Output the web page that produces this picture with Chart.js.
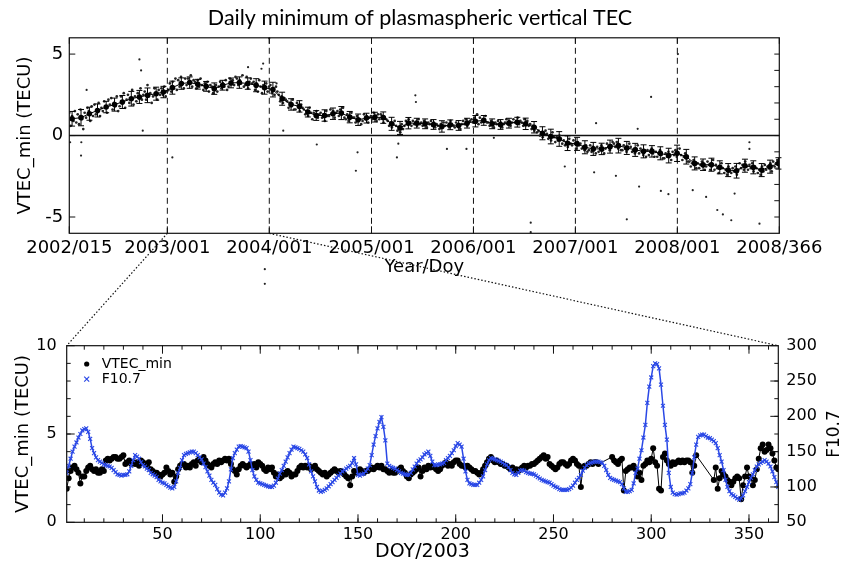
<!DOCTYPE html>
<html><head><meta charset="utf-8">
<script src="https://cdn.jsdelivr.net/npm/chart.js@4.4.0/dist/chart.umd.min.js"></script>
<style>
html,body{margin:0;padding:0;background:#fff;width:849px;height:564px;overflow:hidden}
canvas{position:absolute;left:0}
#top{top:0}
#bot{top:290px}
#ov{top:0;pointer-events:none}
</style></head><body>
<canvas id="top" width="849" height="290"></canvas>
<canvas id="bot" width="849" height="274"></canvas>
<canvas id="ov" width="849" height="564"></canvas>
<script>
// ================= TOP PANEL DATA (x = day number counted from 2002/001 = 0) =================
const yearTickDays   = [14, 365, 730, 1096, 1461, 1826, 2191, 2556];
const yearTickLabels = ['2002/015','2003/001','2004/001','2005/001','2006/001','2007/001','2008/001','2008/366'];
const topYTicks = [-5, 0, 5];
const dailyStartDay = 14, dailyStepDays = 5;
const dailyVTEC = [
 1.4,0.6,1.2,0.9,1.5,0.8, 1.3,0.7,1.6,1.0,0.4,1.4, 1.1,1.7,1.5,0.9,1.8,1.2, 1.9,1.3,1.6,2.0,1.2,1.7,
 1.5,2.1,1.8,1.4,2.2,1.9, 2.3,1.6,2.0,1.8,2.4,1.5, 1.8,2.4,2.0,2.6,1.7,2.2, 2.5,2.0,2.3,2.8,1.9,2.4,
 2.1,2.6,2.3,2.9,2.2,2.5, 2.7,2.2,3.1,2.4,2.6,2.0, 2.4,2.9,2.6,2.2,2.8,2.5, 2.9,2.5,3.0,2.4,2.7,2.8,
 3.2,2.7,3.3,2.9,3.5,2.8, 3.4,3.0,3.6,3.2,2.9,3.5, 3.1,3.5,3.3,3.7,3.0,3.4, 3.3,2.9,3.4,3.0,3.5,3.1,
 2.8,3.2,2.9,3.3,2.7,3.1, 3.0,2.6,2.9,3.1,2.7,3.0, 3.3,2.9,3.2,3.0,3.4,2.8, 3.0,3.5,3.2,3.4,3.1,3.6,
 3.5,3.1,3.4,3.2,3.7,3.0, 3.1,3.6,2.9,3.3,3.5,3.2, 3.3,2.8,3.2,2.7,3.4,3.0, 2.6,3.1,2.9,3.2,2.7,3.0,
 3.1,2.6,2.9,2.5,3.0,2.7, 2.5,2.1,2.4,2.0,2.3,2.2, 2.1,1.7,2.0,1.8,2.2,1.6, 1.6,2.0,1.8,1.5,1.9,1.7,
 1.6,1.3,1.5,1.2,1.7,1.4, 1.0,1.4,1.2,1.5,1.1,1.3, 1.4,1.1,1.3,0.9,1.5,1.2, 1.2,1.6,1.3,1.5,1.1,1.4,
 1.5,1.2,1.6,1.3,1.7,1.1, 1.0,1.3,0.9,1.2,1.4,1.1, 1.1,0.8,1.2,0.9,1.0,0.7, 0.9,1.3,1.0,1.2,0.8,1.1,
 1.2,1.0,1.4,1.1,0.9,1.3, 1.0,1.3,1.2,0.8,1.1,1.0, 0.9,0.6,0.8,0.5,0.7,0.9, 0.6,0.3,0.5,0.2,0.7,0.4,
 0.6,0.9,0.7,1.0,0.8,0.6, 0.9,0.7,0.8,0.6,1.0,0.7, 0.8,0.6,0.9,0.7,0.5,0.8, 0.7,0.9,0.6,0.8,0.5,0.7,
 0.6,0.4,0.7,0.5,0.8,0.6, 0.8,0.6,0.5,0.9,0.7,0.6, 0.5,0.8,0.6,0.7,0.4,0.7, 0.9,0.7,1.0,0.6,0.8,0.9,
 1.0,0.8,1.1,0.9,1.3,0.7, 1.1,0.8,1.0,0.9,1.2,0.8, 0.8,0.6,0.9,0.7,0.5,0.8, 0.7,0.9,0.6,0.8,0.5,0.7,
 0.8,1.0,0.7,0.9,0.6,0.8, 1.0,0.8,0.9,1.1,0.7,0.9, 0.8,0.6,1.0,0.7,0.9,0.6, 0.7,0.4,0.6,0.3,0.5,0.2,
 0.3,0.0,0.2,-0.1,0.1,0.3, 0.1,-0.2,0.0,-0.3,0.2,-0.1, -0.4,-0.1,-0.3,0.0,-0.2,-0.5, -0.3,-0.6,-0.4,-0.7,-0.2,-0.5,
 -0.6,-0.3,-0.5,-0.8,-0.4,-0.6, -0.5,-0.8,-0.7,-0.9,-0.6,-1.0, -0.9,-0.6,-1.0,-0.7,-0.8,-1.1, -0.7,-1.0,-0.8,-0.6,-0.9,-1.1,
 -0.8,-0.5,-0.7,-0.9,-0.6,-0.4, -0.5,-0.7,-0.4,-0.8,-0.6,-0.9, -0.9,-0.6,-0.8,-1.0,-0.7,-0.5, -0.7,-1.0,-0.9,-1.1,-0.8,-0.6,
 -1.1,-0.8,-1.0,-1.2,-0.9,-1.3, -0.9,-1.2,-1.0,-0.8,-1.1,-1.3, -1.0,-1.3,-1.1,-0.9,-1.2,-1.4, -1.4,-1.1,-1.3,-1.0,-1.2,-1.5,
 -1.0,-1.2,-0.9,-1.3,-1.1,-0.8, -1.2,-1.5,-1.3,-1.1,-1.4,-1.6, -1.6,-1.9,-1.7,-1.5,-1.8,-2.0, -1.7,-2.0,-1.8,-1.6,-1.9,-2.1,
 -1.9,-1.6,-1.8,-2.1,-1.7,-1.5, -2.1,-1.8,-2.0,-2.3,-1.9,-1.7, -2.0,-2.3,-2.1,-2.4,-1.9,-2.2, -2.3,-2.0,-2.2,-1.9,-2.4,-2.1,
 -1.7,-2.0,-1.8,-2.1,-1.6,-1.9, -2.1,-1.8,-2.0,-1.7,-2.2,-1.9, -2.0,-2.3,-2.1,-2.4,-1.9,-2.2, -1.8,-2.1,-1.9,-2.0,-1.7,-2.2,
 -1.6,-1.9,-1.7,-1.5
];
const monthDay = [24,56,86,115,146,176,204,236,265,294,325,351,383,415,445,474,504,533,563,593,
 623,653,683,713,743,776,808,838,868,898,928,958,988,1018,1048,1078,1108,1138,1168,1198,
 1228,1258,1288,1318,1348,1378,1408,1438,1468,1498,1528,1558,1588,1618,1648,1678,1708,1738,1768,1798,
 1832,1860,1890,1920,1950,1980,2010,2040,2070,2100,2130,2160,2190,2223,2253,2283,2313,2343,2373,2403,
 2433,2463,2493,2523,2553];
const monthMean = [1.03,1.10,1.34,1.54,1.75,1.90,2.06,2.26,2.37,2.47,
 2.57,2.67,2.94,3.19,3.25,3.15,3.02,2.88,3.09,3.23,
 3.25,3.19,3.09,2.94,2.82,2.26,1.91,1.79,1.44,1.23,
 1.23,1.34,1.38,1.13,0.97,1.07,1.13,1.10,0.72,0.47,
 0.76,0.76,0.72,0.68,0.56,0.66,0.62,0.76,0.88,0.93,
 0.72,0.68,0.76,0.82,0.72,0.51,0.14,-0.06,-0.21,-0.47,
 -0.51,-0.72,-0.82,-0.82,-0.68,-0.62,-0.76,-0.88,-0.97,-0.97,
 -1.09,-1.23,-1.09,-1.30,-1.71,-1.79,-1.79,-1.95,-2.12,-2.16,
 -1.85,-1.95,-2.12,-1.91,-1.71];
const monthErr = [0.45,0.5,0.4,0.4,0.35,0.4,0.4,0.45,0.4,0.45,
 0.4,0.35,0.4,0.35,0.35,0.3,0.3,0.35,0.3,0.3,
 0.35,0.35,0.4,0.4,0.45,0.4,0.35,0.35,0.3,0.3,
 0.35,0.35,0.4,0.35,0.35,0.3,0.3,0.35,0.4,0.4,
 0.35,0.3,0.3,0.3,0.35,0.3,0.3,0.3,0.35,0.3,
 0.3,0.3,0.3,0.3,0.35,0.35,0.4,0.45,0.45,0.45,
 0.4,0.4,0.4,0.35,0.4,0.45,0.4,0.4,0.4,0.35,
 0.4,0.45,0.5,0.45,0.4,0.35,0.4,0.4,0.4,0.45,
 0.4,0.4,0.4,0.4,0.35];
const outlierDay  = [17,56,57,76,265,271,277,383,654,702,708,730,756,780,900,1040,1046,1187,1192,1253,1255,
 1366,1436,1534,1666,1666,1788,1893,1900,1971,2010,2049,2054,2097,2132,2159,2193,2246,2294,2334,2354,2384,2396,2449,2449,2485,714,714];
const outlierVTEC = [-0.41,-1.23,-0.41,2.8,4.67,4.0,0.3,-1.34,4.2,4.1,4.42,5.97,3.2,0.3,-0.55,-2.16,-1.03,-1.34,-0.5,2.47,2.06,
 -0.82,-0.82,-0.14,-5.35,-5.93,-1.9,-2.26,0.76,-2.47,-5.14,0.41,-3.13,2.37,-3.4,-3.6,5.0,-3.35,-3.77,-4.57,-4.84,-5.2,-3.56,-0.41,-0.82,-5.41,-8.2,-9.1];

// ================= BOTTOM PANEL DATA (2003, DOY 1..365) =================
const doyTicks  = [50, 100, 150, 200, 250, 300, 350];
const vtecTicks = [0, 5, 10];
const f107Ticks = [50, 100, 150, 200, 250, 300];
const vtecMin2003 = [
 1.9,2.5,2.9,3.1,3.2,3.0,2.8,2.2,2.6,2.6, 2.9,3.1,3.2,3.0,2.9,3.0,2.8,2.8,3.0,2.9,
 3.5,3.6,3.5,3.6,3.7,3.7,3.6,3.6,3.7,3.8, 3.3,3.4,3.5,3.3,3.4,3.3,3.4,3.2,3.5,3.4,
 3.3,3.2,3.4,3.0,2.9,2.8,2.8,2.7,2.6,2.7, 2.8,3.1,2.9,2.7,2.8,2.3,2.6,3.0,3.2,3.3,
 3.3,3.1,3.2,3.1,3.3,3.4,3.2,3.5,3.6,3.4, 3.7,3.5,3.3,3.2,3.1,3.3,3.4,3.3,3.5,3.4,
 3.5,3.6,3.5,3.6,3.3,3.0,2.9,2.7,3.0,3.2, 3.3,3.2,3.1,3.2,3.3,3.2,3.3,3.1,3.4,3.3,
 3.2,3.0,2.9,3.1,3.0,3.1,2.8,2.6,2.7,2.5, 2.6,2.8,2.7,2.9,2.8,2.6,2.7,2.7,2.9,3.1,
 3.2,3.1,3.2,3.1,3.2,3.0,3.1,3.2,3.0,2.9, 2.8,2.7,2.8,2.6,2.7,2.8,2.9,3.0,2.9,2.8,
 2.9,2.8,2.7,2.6,2.5,2.1,2.6,2.9,2.8,2.9, 3.0,2.9,2.8,2.9,2.9,3.0,3.1,3.0,3.1,3.2,
 3.1,3.2,3.0,3.0,2.9,2.8,2.9,2.8,2.8,2.9, 3.0,3.1,2.9,2.8,2.6,2.5,2.7,2.8,2.9,3.0,
 3.1,2.6,2.9,3.1,3.0,3.2,3.1,3.2,3.1,3.0, 2.9,3.0,3.2,3.3,3.4,3.2,3.3,3.2,3.4,3.5,
 3.5,3.3,3.2,3.2,3.1,3.2,3.1,3.0,2.9,2.9, 2.8,2.7,2.8,3.0,3.2,3.4,3.6,3.7,3.5,3.4,
 3.5,3.4,3.3,3.3,3.2,3.2,3.1,3.0,3.1,2.9, 3.0,2.9,3.0,3.1,3.2,3.1,3.2,3.2,3.3,3.3,
 3.4,3.5,3.6,3.7,3.8,3.6,3.7,3.3,3.2,3.1, 3.0,3.1,3.3,3.4,3.4,3.3,3.2,3.3,3.5,3.6,
 3.5,3.3,3.2,2.0,3.1,3.2,3.2,3.3,3.4,3.3, 3.4,3.4,3.3,null,null,null,null,null,null,3.7,
 3.5,3.4,3.3,3.5,3.6,1.8,2.9,3.0,3.1,3.1, 3.2,3.0,2.6,2.8,2.4,3.2,3.3,3.5,3.4,3.6,
 4.2,3.4,3.2,1.9,1.8,3.7,3.9,3.5,3.3,3.2, 3.4,3.3,3.4,3.5,3.4,3.5,3.4,3.5,3.5,3.4,
 2.8,3.2,3.8,null,null,null,null,null,null,null, null,2.4,3.1,1.9,2.5,2.9,2.7,2.6,2.4,2.3,
 2.1,2.3,2.5,2.6,2.5,1.3,2.1,2.6,3.1,2.6, 2.5,2.1,2.4,3.0,3.6,4.2,4.4,4.0,4.1,4.4,
 4.2,3.9,3.5,3.1,3.0
];
const f107_2003 = [
 120,130,140,150,157,163,170,175,180,182, 183,178,168,155,148,142,138,136,134,132,
 131,130,129,127,124,121,118,117,116,117, 117,118,122,130,138,145,143,140,135,131,
 129,126,124,120,118,116,114,110,108,106, 105,103,101,99,98,100,108,120,127,138,
 145,147,148,149,150,150,148,145,142,139, 133,128,122,116,110,106,103,97,92,89,
 88,92,98,108,125,141,148,153,157,158, 157,156,155,150,138,124,115,110,106,105,
 104,103,102,101,100,100,102,106,112,119, 124,130,136,142,148,153,157,156,155,154,
 152,150,146,141,132,122,115,108,100,95, 93,94,96,98,101,104,107,110,113,116,
 119,122,124,126,128,130,134,141,132,117, 116,118,119,122,126,131,145,160,172,183,
 192,199,185,166,133,130,128,127,126,124, 122,120,119,118,117,117,120,125,129,133,
 137,139,142,146,148,150,144,136,131,131, 132,132,133,134,138,141,144,148,152,158,
 162,160,157,140,122,110,105,104,103,103, 103,106,110,115,124,132,138,141,140,139,
 138,137,136,134,132,131,128,124,120,118, 117,120,123,124,123,121,120,119,119,118,
 116,114,112,110,109,108,107,106,104,102, 100,99,97,96,96,96,96,97,99,102,
 106,110,113,117,123,127,131,133,134,135, 136,136,136,135,134,130,124,117,113,111,
 110,109,108,107,104,98,93,93,94,96, 105,120,126,140,152,170,188,219,242,255,
 271,275,274,268,245,215,188,167,120,100, 92,90,89,90,91,91,92,95,98,104,
 120,142,160,171,173,174,174,172,170,169, 167,165,162,155,145,136,124,110,100,94,
 90,88,86,84,82,84,88,94,100,107, 113,118,124,129,132,134,136,138,136,133,
 129,122,114,107,100
];

// ================= helpers =================
Chart.defaults.font.family = "'DejaVu Sans', sans-serif";
Chart.defaults.color = '#000';
const BLUE = '#2a48e6';

function tickSet(ctx, scale, vals, len, edge, a) {
  ctx.beginPath();
  for (const v of vals) {
    const p = scale.getPixelForValue(v);
    if (edge === 'bottom') { ctx.moveTo(p, a.bottom); ctx.lineTo(p, a.bottom - len); }
    else if (edge === 'top') { ctx.moveTo(p, a.top); ctx.lineTo(p, a.top + len); }
    else if (edge === 'left') { ctx.moveTo(a.left, p); ctx.lineTo(a.left + len, p); }
    else { ctx.moveTo(a.right, p); ctx.lineTo(a.right - len, p); }
  }
  ctx.stroke();
}
function range(a, b, s) { const r = []; for (let v = a; v <= b + 1e-9; v += s) r.push(v); return r; }

// ================= top chart =================
const topDecor = {
  id: 'topDecor',
  beforeDatasetsDraw(chart) {
    const {ctx, chartArea: a, scales: {x, y}} = chart;
    ctx.save();
    ctx.strokeStyle = '#111'; ctx.lineWidth = 1; ctx.setLineDash([6, 4]);
    yearTickDays.slice(1, -1).forEach(d => {
      const px = x.getPixelForValue(d);
      ctx.beginPath(); ctx.moveTo(px, a.top); ctx.lineTo(px, a.bottom); ctx.stroke();
    });
    ctx.setLineDash([]);
    ctx.lineWidth = 1.5;
    const p0 = y.getPixelForValue(0);
    ctx.beginPath(); ctx.moveTo(a.left, p0); ctx.lineTo(a.right, p0); ctx.stroke();
    ctx.restore();
  },
  afterDatasetsDraw(chart) {
    const {ctx, chartArea: a, scales: {x, y}} = chart;
    ctx.save();
    ctx.strokeStyle = '#000'; ctx.lineWidth = 1;
    ctx.beginPath();
    monthDay.forEach((d, i) => {
      const px = x.getPixelForValue(d);
      const y1 = y.getPixelForValue(monthMean[i] - monthErr[i]);
      const y2 = y.getPixelForValue(monthMean[i] + monthErr[i]);
      ctx.moveTo(px, y1); ctx.lineTo(px, y2);
      ctx.moveTo(px - 3, y1); ctx.lineTo(px + 3, y1);
      ctx.moveTo(px - 3, y2); ctx.lineTo(px + 3, y2);
    });
    ctx.stroke();
    ctx.fillStyle = '#222';
    outlierDay.forEach((d, i) => {
      ctx.beginPath();
      ctx.arc(x.getPixelForValue(d), y.getPixelForValue(outlierVTEC[i]), 1.1, 0, Math.PI * 2);
      ctx.fill();
    });
    ctx.strokeStyle = '#111'; ctx.lineWidth = 1.2;
    ctx.strokeRect(a.left, a.top, a.right - a.left, a.bottom - a.top);
    ctx.lineWidth = 1;
    tickSet(ctx, x, yearTickDays, 7, 'bottom', a);
    tickSet(ctx, x, yearTickDays, 6, 'top', a);
    tickSet(ctx, y, topYTicks, 6, 'left', a);
    tickSet(ctx, y, range(-5, 5, 1), 5, 'right', a);
    ctx.restore();
  }
};

const topChart = new Chart(document.getElementById('top'), {
  type: 'scatter',
  data: {
    datasets: [
      { label: 'monthly', data: monthDay.map((d, i) => ({x: d, y: monthMean[i]})), showLine: true,
        borderColor: '#000', borderWidth: 1, pointRadius: 2.8, pointBackgroundColor: '#000', pointBorderWidth: 0 },
      { label: 'daily', data: dailyVTEC.map((v, i) => ({x: dailyStartDay + i * dailyStepDays, y: v})),
        pointRadius: 1.35, pointBackgroundColor: '#222', pointBorderWidth: 0, showLine: false }
    ]
  },
  options: {
    responsive: false, animation: false, devicePixelRatio: 1,
    layout: {padding: {left: 0, right: 9, top: 0, bottom: 0}},
    plugins: {
      legend: {display: false}, tooltip: {enabled: false},
      title: {display: true, text: 'Daily minimum of plasmaspheric vertical TEC',
        font: {family: 'Lato', size: 21.5, weight: 'normal'}, color: '#000', padding: {top: 5, bottom: 7}}
    },
    scales: {
      x: { type: 'linear', min: yearTickDays[0], max: yearTickDays[yearTickDays.length - 1],
        grid: {display: false, drawTicks: false}, border: {display: false},
        afterBuildTicks: s => { s.ticks = yearTickDays.map(v => ({value: v})); },
        ticks: {autoSkip: false, maxRotation: 0, padding: 4, font: {size: 18}, callback: (v, i) => yearTickLabels[i]},
        title: {display: true, text: 'Year/Doy', font: {size: 18}, padding: {top: 0, bottom: 12}},
        afterFit: s => { s.height = 56.7; } },
      y: { min: -6, max: 6, grid: {display: false, drawTicks: false}, border: {display: false},
        afterBuildTicks: s => { s.ticks = topYTicks.map(v => ({value: v})); },
        ticks: {padding: 6, font: {size: 18}},
        title: {display: true, text: 'VTEC_min (TECU)', font: {size: 18}, padding: {top: 15, bottom: 0}},
        afterFit: s => { s.width = 69.3; } },
      yR: { position: 'right', min: -6, max: 6, grid: {display: false, drawTicks: false}, border: {display: false},
        ticks: {display: false}, afterFit: s => { s.width = 60.7; } }
    }
  },
  plugins: [topDecor]
});

// ================= bottom chart =================
const botDecor = {
  id: 'botDecor',
  afterDatasetsDraw(chart) {
    const {ctx, chartArea: a, scales: {x, y, y2}} = chart;
    ctx.save();
    ctx.strokeStyle = '#111'; ctx.lineWidth = 1.2;
    ctx.strokeRect(a.left, a.top, a.right - a.left, a.bottom - a.top);
    ctx.lineWidth = 1;
    const minorDoy = range(10, 360, 10);
    tickSet(ctx, x, minorDoy, 4, 'bottom', a); tickSet(ctx, x, minorDoy, 4, 'top', a);
    tickSet(ctx, x, doyTicks, 8, 'bottom', a); tickSet(ctx, x, doyTicks, 8, 'top', a);
    tickSet(ctx, y, range(1, 9, 1), 4, 'left', a); tickSet(ctx, y, vtecTicks, 8, 'left', a);
    tickSet(ctx, y2, range(75, 275, 25), 4, 'right', a); tickSet(ctx, y2, f107Ticks, 8, 'right', a);
    const ds = chart.data.datasets;
    ctx.font = "14px 'DejaVu Sans'"; ctx.textBaseline = 'middle'; ctx.fillStyle = '#000';
    const lx = a.left + 20, l1 = a.top + 18.3, l2 = a.top + 33.5;
    ctx.beginPath(); ctx.arc(lx, l1, 2.6, 0, Math.PI * 2); ctx.fillStyle = ds[1].pointBackgroundColor; ctx.fill();
    ctx.strokeStyle = ds[0].borderColor; ctx.lineWidth = 1.2; ctx.beginPath();
    ctx.moveTo(lx - 2.5, l2 - 2.5); ctx.lineTo(lx + 2.5, l2 + 2.5);
    ctx.moveTo(lx - 2.5, l2 + 2.5); ctx.lineTo(lx + 2.5, l2 - 2.5); ctx.stroke();
    ctx.fillStyle = '#000';
    ctx.fillText(ds[1].label, a.left + 35, l1);
    ctx.fillText(ds[0].label, a.left + 35, l2);
    ctx.save();
    ctx.translate(y2.right - 14, (a.top + a.bottom) / 2);
    ctx.rotate(-Math.PI / 2);
    ctx.font = "17px 'DejaVu Sans'"; ctx.textAlign = 'center'; ctx.textBaseline = 'middle';
    ctx.fillText('F10.7', 0, 0);
    ctx.restore();
    ctx.restore();
  }
};

const doyAxis = vtecMin2003.map((_, i) => i + 1);
const botChart = new Chart(document.getElementById('bot'), {
  type: 'scatter',
  data: {
    datasets: [
      { label: 'F10.7', yAxisID: 'y2', order: 0,
        data: f107_2003.map((v, i) => ({x: doyAxis[i], y: v})), showLine: true,
        borderColor: BLUE, borderWidth: 1.5, pointStyle: 'crossRot', pointRadius: 2.8,
        pointBorderColor: BLUE, pointBorderWidth: 1.1, pointBackgroundColor: BLUE },
      { label: 'VTEC_min', yAxisID: 'y', order: 1, spanGaps: true,
        data: vtecMin2003.map((v, i) => ({x: doyAxis[i], y: v})), showLine: true,
        borderColor: '#000', borderWidth: 1, pointRadius: 3, pointBackgroundColor: '#000', pointBorderWidth: 0 }
    ]
  },
  options: {
    responsive: false, animation: false, devicePixelRatio: 1,
    layout: {padding: {left: 0, right: 0, top: 55.7, bottom: 0}},
    plugins: {legend: {display: false}, tooltip: {enabled: false}},
    scales: {
      x: { type: 'linear', min: 1, max: 365, grid: {display: false, drawTicks: false}, border: {display: false},
        afterBuildTicks: s => { s.ticks = doyTicks.map(v => ({value: v})); },
        ticks: {autoSkip: false, maxRotation: 0, padding: 3, font: {size: 16}},
        title: {display: true, text: 'DOY/2003', font: {size: 19}, padding: {top: 0, bottom: 1}},
        afterFit: s => { s.height = 41.7; } },
      y: { position: 'left', min: 0, max: 10, grid: {display: false, drawTicks: false}, border: {display: false},
        afterBuildTicks: s => { s.ticks = vtecTicks.map(v => ({value: v})); },
        ticks: {padding: 10, font: {size: 16}},
        title: {display: true, text: 'VTEC_min (TECU)', font: {size: 18}, padding: {top: 13, bottom: 0}},
        afterFit: s => { s.width = 66.7; } },
      y2: { position: 'right', min: 50, max: 300, grid: {display: false, drawTicks: false}, border: {display: false},
        afterBuildTicks: s => { s.ticks = f107Ticks.map(v => ({value: v})); },
        ticks: {padding: 8, font: {size: 16}},
        afterFit: s => { s.width = 70.7; } }
    }
  },
  plugins: [botDecor]
});

// ================= zoom connector (2003 in top panel -> bottom panel) =================
(function () {
  const ov = document.getElementById('ov').getContext('2d');
  const botOffset = document.getElementById('bot').offsetTop;
  const tA = topChart.chartArea, bA = botChart.chartArea;
  const tx = topChart.scales.x, bx = botChart.scales.x;
  ov.strokeStyle = '#111'; ov.lineWidth = 1.2; ov.setLineDash([1.5, 2]);
  ov.beginPath();
  ov.moveTo(tx.getPixelForValue(yearTickDays[1]), tA.bottom);
  ov.lineTo(bx.getPixelForValue(bx.min), bA.top + botOffset);
  ov.moveTo(tx.getPixelForValue(yearTickDays[2]), tA.bottom);
  ov.lineTo(bx.getPixelForValue(bx.max), bA.top + botOffset);
  ov.stroke();
})();
</script>
</body></html>
